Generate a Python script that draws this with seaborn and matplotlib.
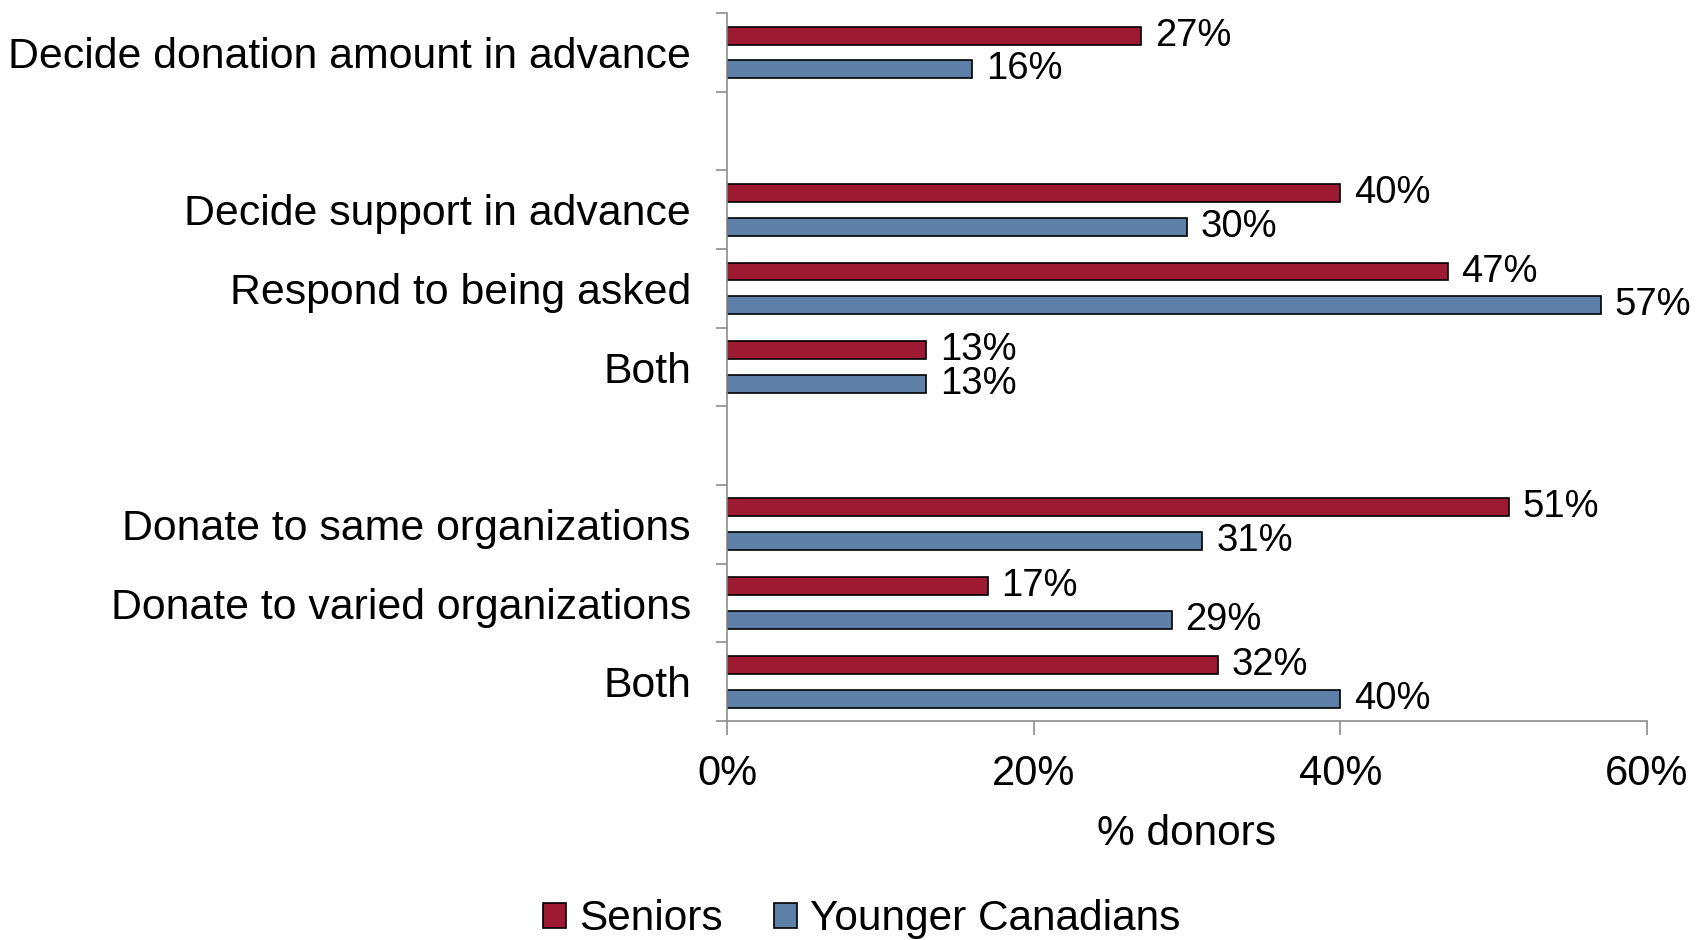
import numpy as np
import pandas as pd
import seaborn as sns
import matplotlib.pyplot as plt
from matplotlib.ticker import FixedLocator

# category slots from top to bottom (blank slots make the gaps between groups)
slots = ['amount', 'gap1', 'support', 'asked', 'both1', 'gap2', 'same', 'varied', 'both2']
slot_labels = ['Decide donation amount in advance', '', 'Decide support in advance',
               'Respond to being asked', 'Both', '', 'Donate to same organizations',
               'Donate to varied organizations', 'Both']
seniors = [27, np.nan, 40, 47, 13, np.nan, 51, 17, 32]
younger = [16, np.nan, 30, 57, 13, np.nan, 31, 29, 40]
groups = ['Seniors', 'Younger Canadians']
colors = ['#9E1A32', '#5E80A8']

df = pd.DataFrame({
    'slot': slots * 2,
    'group': [groups[0]] * len(slots) + [groups[1]] * len(slots),
    'value': seniors + younger,
})

sns.set_style('white')
plt.rcParams['font.family'] = ['Liberation Sans', 'DejaVu Sans']
plt.rcParams['text.color'] = 'black'
plt.rcParams['xtick.labelcolor'] = 'black'
plt.rcParams['ytick.labelcolor'] = 'black'
plt.rcParams['axes.labelcolor'] = 'black'

fig, ax = plt.subplots(figsize=(16.96, 9.40), dpi=100)
fig.subplots_adjust(left=0.4287, right=0.971, top=0.986, bottom=0.233)

sns.barplot(data=df, x='value', y='slot', hue='group', order=slots, hue_order=groups,
            palette=colors, width=0.86, gap=0.47, edgecolor='black', linewidth=1.2,
            saturation=1, orient='h', ax=ax, legend=True)

for cont in ax.containers:
    labels = ['' if np.isnan(v) else f'{v:.0f}%' for v in cont.datavalues]
    ax.bar_label(cont, labels=labels, padding=10, fontsize=27.5, color='black')

ax.set_xlim(0, 60)
ax.set_ylim(len(slots) - 0.5, -0.5)
ax.set_xticks([0, 20, 40, 60])
ax.set_xticklabels(['0%', '20%', '40%', '60%'], fontsize=30)
ax.set_yticks(range(len(slots)))
ax.set_yticklabels(slot_labels, fontsize=30.8)
ax.yaxis.set_minor_locator(FixedLocator(np.arange(-0.5, len(slots), 1.0)))
ax.tick_params(axis='y', which='major', length=0, pad=26)
ax.tick_params(axis='y', which='minor', length=8, width=1.2, color='#8c8c8c', direction='out', left=True)
ax.tick_params(axis='x', which='major', length=10, width=1.2, color='#8c8c8c', direction='out',
               bottom=True, pad=14)
ax.set_xlabel('% donors', fontsize=30.5, labelpad=14)
ax.set_ylabel('')

for s in ['top', 'right']:
    ax.spines[s].set_visible(False)
for s in ['left', 'bottom']:
    ax.spines[s].set_color('#8c8c8c')
    ax.spines[s].set_linewidth(1.2)

handles, labs = ax.get_legend_handles_labels()
ax.get_legend().remove()
fig.legend(handles, labs, loc='center', bbox_to_anchor=(0.508, 0.022), ncol=2, frameon=False,
           fontsize=30.5, handlelength=0.55, handleheight=0.55, handletextpad=0.3,
           columnspacing=1.2)

fig.savefig('out.png', dpi=100)
